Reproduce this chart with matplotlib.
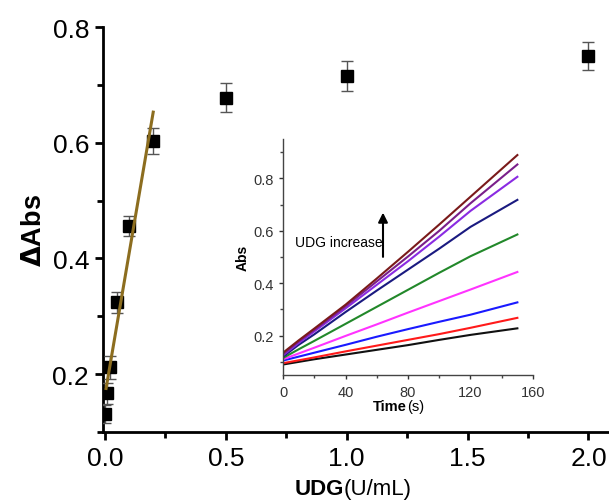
import numpy as np
import matplotlib
matplotlib.use('Agg')
import matplotlib.pyplot as plt
from matplotlib.ticker import MultipleLocator

plt.rcParams['font.family'] = ['Liberation Sans', 'DejaVu Sans']

# main panel: dAbs vs UDG concentration
udg = [0.0, 0.01, 0.02, 0.05, 0.1, 0.2, 0.5, 1.0, 2.0]
dabs = [0.131, 0.167, 0.212, 0.324, 0.456, 0.603, 0.678, 0.715, 0.750]
dabs_err = [0.015, 0.018, 0.02, 0.018, 0.018, 0.023, 0.025, 0.026, 0.025]

# linear fit over the low range
fit_x = [0.005, 0.2]
fit_slope = 2.45
fit_icpt = 0.163

# inset: kinetic curves, one per UDG level (low -> high)
time_s = [0, 10, 20, 40, 60, 80, 100, 120, 150]
curves = [
    [0.090, 0.100, 0.110, 0.128, 0.146, 0.164, 0.184, 0.203, 0.228],
    [0.095, 0.106, 0.117, 0.140, 0.162, 0.184, 0.206, 0.230, 0.268],
    [0.105, 0.120, 0.135, 0.165, 0.196, 0.225, 0.253, 0.280, 0.327],
    [0.110, 0.132, 0.154, 0.199, 0.243, 0.288, 0.332, 0.376, 0.443],
    [0.115, 0.148, 0.180, 0.245, 0.310, 0.375, 0.440, 0.503, 0.586],
    [0.120, 0.165, 0.205, 0.290, 0.372, 0.452, 0.532, 0.615, 0.718],
    [0.125, 0.172, 0.216, 0.304, 0.394, 0.484, 0.578, 0.676, 0.806],
    [0.130, 0.178, 0.222, 0.312, 0.407, 0.502, 0.600, 0.705, 0.853],
    [0.135, 0.182, 0.227, 0.318, 0.418, 0.520, 0.624, 0.730, 0.889],
]
curve_colors = ['#111111', '#ff1a1a', '#1a1aff', '#ff33ff', '#22882a',
                '#1a1a80', '#8a2be2', '#7a1f8a', '#7a1a1a']

fig = plt.figure(figsize=(6.09, 5.02), dpi=100)
ax = fig.add_axes([0.169, 0.1375, 0.831, 0.8065])

ax.errorbar(udg, dabs, yerr=dabs_err, fmt='s', color='black', markersize=8,
            ecolor='#555555', elinewidth=1, capsize=4, capthick=1, zorder=3)
fx = np.array(fit_x)
ax.plot(fx, fit_icpt + fit_slope * fx, color='#8c6d1f', linewidth=2.2, zorder=4)

ax.set_xlim(-0.008, 2.085)
ax.set_ylim(0.1, 0.8)
ax.xaxis.set_minor_locator(MultipleLocator(0.25))
ax.yaxis.set_minor_locator(MultipleLocator(0.1))
ax.set_xticks([0.0, 0.5, 1.0, 1.5, 2.0])
ax.set_xticklabels(['0.0', '0.5', '1.0', '1.5', '2.0'])
ax.set_yticks([0.2, 0.4, 0.6, 0.8])
ax.set_yticklabels(['0.2', '0.4', '0.6', '0.8'])
for s in ['top', 'right']:
    ax.spines[s].set_visible(False)
for s in ['left', 'bottom']:
    ax.spines[s].set_linewidth(2)
ax.tick_params(which='major', direction='out', length=6, width=2, labelsize=19, pad=4)
ax.tick_params(which='minor', direction='out', length=4, width=2)
ax.set_ylabel(r'$\mathbf{\Delta}$' + 'Abs', fontsize=19.5, fontweight='bold', labelpad=4)
fig.text(0.565, 0.004, 'UDG', fontsize=16, fontweight='bold', ha='right', va='bottom')
fig.text(0.565, 0.004, '(U/mL)', fontsize=16, ha='left', va='bottom')

# inset
ins = fig.add_axes([0.4647, 0.251, 0.4105, 0.470])
for c, col in zip(curves, curve_colors):
    ins.plot(time_s, c, color=col, linewidth=1.5)
ins.set_xlim(0, 160)
ins.set_ylim(0.05, 0.95)
ins.xaxis.set_major_locator(MultipleLocator(40))
ins.xaxis.set_minor_locator(MultipleLocator(20))
ins.yaxis.set_minor_locator(MultipleLocator(0.1))
ins.set_yticks([0.2, 0.4, 0.6, 0.8])
for s in ['top', 'right']:
    ins.spines[s].set_visible(False)
for s in ['left', 'bottom']:
    ins.spines[s].set_linewidth(1)
    ins.spines[s].set_color('#444444')
ins.tick_params(which='major', direction='out', length=3, width=1, labelsize=10.5,
                colors='#333333', pad=4)
ins.tick_params(which='minor', direction='out', length=2, width=1, colors='#444444')
ins.set_ylabel('Abs', fontsize=10, fontweight='bold', labelpad=2)
ins.text(0.497, -0.10, 'Time', fontsize=10.5, fontweight='bold', ha='right', va='top',
         transform=ins.transAxes)
ins.text(0.497, -0.10, '(s)', fontsize=10.5, ha='left', va='top',
         transform=ins.transAxes)
ins.text(7.5, 0.556, 'UDG increase', fontsize=10, ha='left', va='center')
ins.annotate('', xy=(64, 0.68), xytext=(64, 0.49),
             arrowprops=dict(arrowstyle='-|>', color='black', lw=1.5,
                             mutation_scale=14))

fig.savefig('out.png', dpi=100)
